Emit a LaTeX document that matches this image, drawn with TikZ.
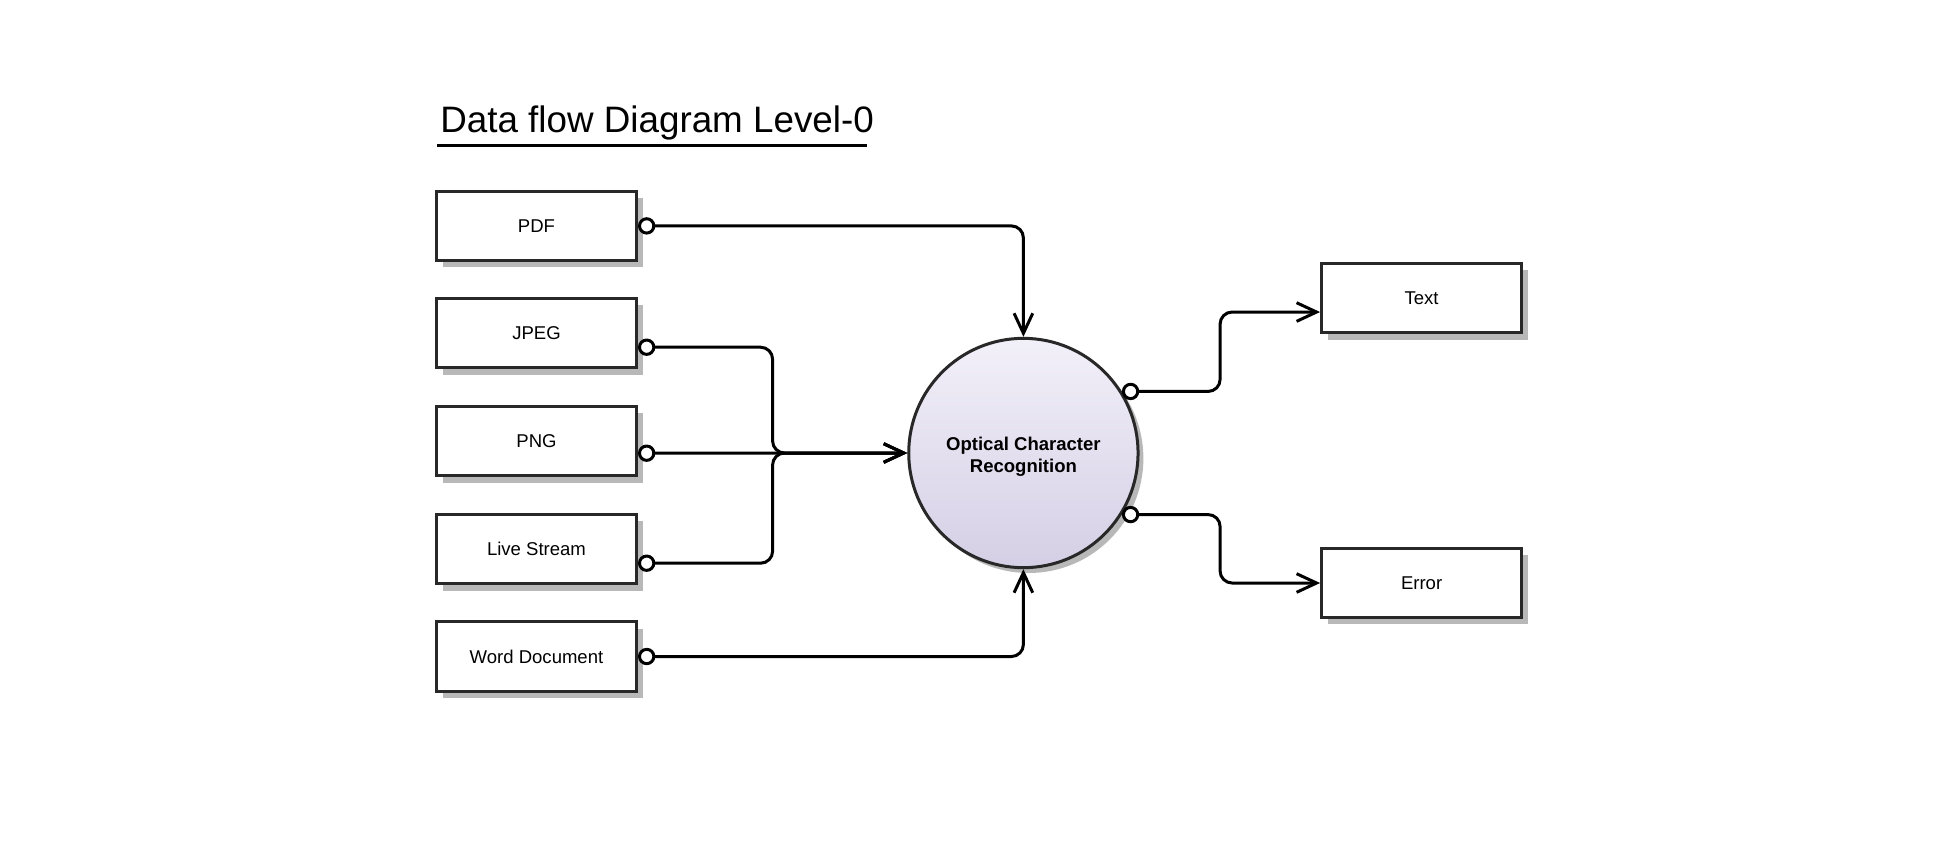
\documentclass[tikz,border=0pt]{standalone}
\usepackage{fontspec}
\setmainfont{Liberation Sans}
\usetikzlibrary{arrows.meta,shadows}
\definecolor{edgec}{RGB}{40,40,40}
\definecolor{shad}{RGB}{184,184,184}
\definecolor{ctop}{RGB}{242,240,249}
\definecolor{cbot}{RGB}{213,207,229}
\begin{document}
\begin{tikzpicture}[x=0.75pt,y=-0.75pt,
  ent/.style={draw=edgec, line width=2.25pt, fill=white, minimum width=150pt, minimum height=52pt,
    inner sep=0pt, font=\fontsize{13.9pt}{16pt}\selectfont,
    drop shadow={shadow xshift=5pt, shadow yshift=-5pt, fill=shad, opacity=1}},
  proc/.style={circle, draw=edgec, line width=2.25pt, top color=ctop, bottom color=cbot,
    minimum size=172pt, inner sep=0pt,
    drop shadow={shadow xshift=4pt, shadow yshift=-4pt, fill=shad, opacity=1}},
  proctext/.style={align=center, inner sep=0pt, yshift=-3pt,
    font=\bfseries\fontsize{13.9pt}{16.5pt}\selectfont},
  flow/.style={draw=black, line width=2.25pt, rounded corners=9pt,
    {Circle[fill=white,length=13pt,width=13pt]}-{Straight Barb[length=15pt,width=14pt]}},
]
\useasboundingbox (0,0) rectangle (1957,847);

\node[anchor=base west, inner sep=0pt, font=\fontsize{27.6pt}{32pt}\selectfont] (title) at (440,132) {Data flow Diagram Level-0};
\draw[line width=2.25pt] (437,145) -- (867,145);

\node[ent] (pdf)  at (536.5,225.9) {PDF};
\node[ent] (jpeg) at (536.5,333.2) {JPEG};
\node[ent] (png)  at (536.5,441.2) {PNG};
\node[ent] (live) at (536.5,549.2) {Live Stream};
\node[ent] (word) at (536.5,656.5) {Word Document};

\node[proc, label={[proctext]center:Optical Character\\Recognition}] (ocr) at (1023.4,453) {};

\node[ent] (text)  at (1421.6,298.3) {Text};
\node[ent] (error) at (1421.6,583) {Error};

\coordinate (pj) at ([yshift=-10.5pt]jpeg.east);
\coordinate (pp) at ([yshift=-9pt]png.east);
\coordinate (pl) at ([yshift=-10.5pt]live.east);
\coordinate (bus) at (772.6,453);
\coordinate (ta) at ([yshift=-10.3pt]text.west);

\draw[flow] (pdf.east) -| (ocr.north);
\draw[flow] (pj) -| (bus) -- (ocr.west);
\draw[flow] (pp) -- (ocr.west);
\draw[flow] (pl) -| (bus) -- (ocr.west);
\draw[flow] (word.east) -| (ocr.south);

\draw[flow] (ocr.32) -| ([xshift=-75pt]ta) -- (ta);
\draw[flow] (ocr.-32) -| ([xshift=-75pt]error.west) -- (error.west);
\end{tikzpicture}
\end{document}
